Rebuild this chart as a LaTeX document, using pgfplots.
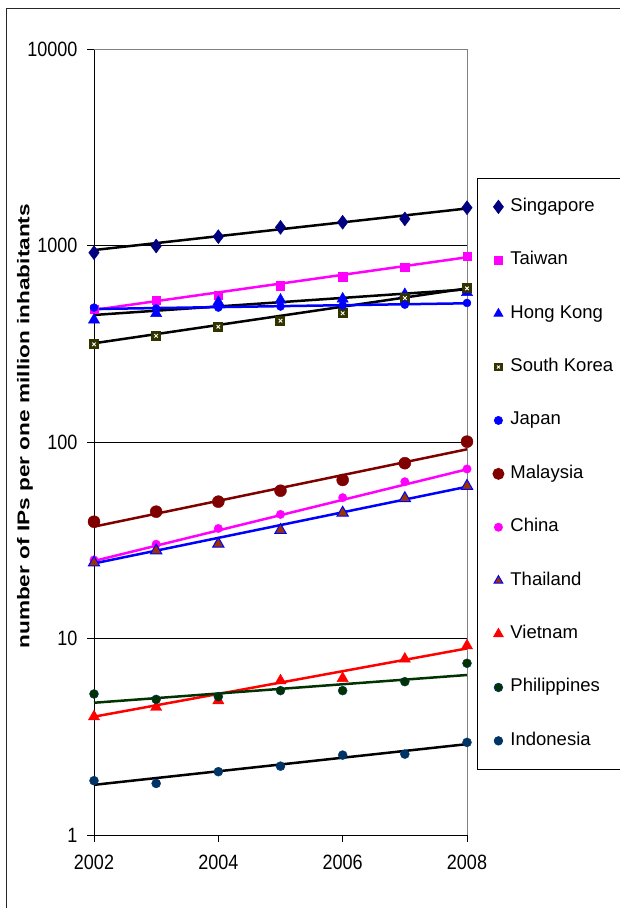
\documentclass[border=0pt]{standalone}
\usepackage{fontspec}
\setmainfont{Liberation Sans}
\usepackage{pgfplots}
\pgfplotsset{compat=1.18}
\definecolor{sgnavy}{HTML}{000080}
\definecolor{mag}{HTML}{FF00FF}
\definecolor{skolive}{HTML}{333300}
\definecolor{mydarkred}{HTML}{800000}
\definecolor{thbrown}{HTML}{993300}
\definecolor{phgreen}{HTML}{003300}
\definecolor{idnavy}{HTML}{003366}
\pgfdeclareplotmark{sqx}{%
 \pgfpathrectangle{\pgfqpoint{-\pgfplotmarksize}{-\pgfplotmarksize}}{\pgfqpoint{2\pgfplotmarksize}{2\pgfplotmarksize}}%
 \pgfsetfillcolor{skolive}\pgfusepath{fill}%
 \pgfsetstrokecolor{white}\pgfsetlinewidth{0.9pt}%
 \pgfpathmoveto{\pgfqpoint{-0.35\pgfplotmarksize}{-0.35\pgfplotmarksize}}%
 \pgfpathlineto{\pgfqpoint{0.35\pgfplotmarksize}{0.35\pgfplotmarksize}}%
 \pgfpathmoveto{\pgfqpoint{-0.35\pgfplotmarksize}{0.35\pgfplotmarksize}}%
 \pgfpathlineto{\pgfqpoint{0.35\pgfplotmarksize}{-0.35\pgfplotmarksize}}%
 \pgfusepath{stroke}}
\newcommand{\tl}[1]{\scalebox{1}[1.15]{#1}}
\begin{document}
\begin{tikzpicture}[x=1pt,y=1pt]
\useasboundingbox (0,0) rectangle (620,908);
\fill[white] (0,0) rectangle (620,908);
\draw[line width=1.8pt, black!85] (6.5,0) -- (6.5,899.5) -- (630,899.5);
\begin{axis}[
 at={(94pt,73pt)}, anchor=south west,
 scale only axis, width=373pt, height=786pt,
 ymode=log, xmin=2002, xmax=2008, ymin=1, ymax=10000,
 axis x line*=bottom, axis y line*=left,
 axis line style={black, line width=0.9pt},
 xtick={2002,2004,2006,2008}, xticklabels={\tl{2002},\tl{2004},\tl{2006},\tl{2008}},
 ytick={1,10,100,1000,10000}, yticklabels={\tl{1},\tl{10},\tl{100},\tl{1000},\tl{10000}},
 yminorticks=false,
 tick style={black, line width=0.9pt},
 tick align=outside, major tick length=7pt,
 ymajorgrids, major grid style={black, line width=0.9pt},
 tick label style={font=\fontsize{18}{20}\selectfont},
 xticklabel style={yshift=-10pt},
 yticklabel style={xshift=-6pt},
 ylabel={\scalebox{1.33}[1]{\bfseries\fontsize{17}{20}\selectfont number of IPs per one million inhabitants}},
 ylabel style={at={(axis description cs:-0.185,0.52)}, anchor=center},
 clip=false,
 legend cell align=left,
 legend style={at={(axis description cs:1.0268,0.836)}, anchor=north west, draw=black, line width=0.9pt,
   inner xsep=15pt, inner ysep=20pt, row sep=36.4pt, column sep=6pt,
   font=\fontsize{18.5}{20}\selectfont,
   nodes={inner sep=0pt, text height=13pt, text depth=4pt}},
 legend image code/.code={\path[draw=none,fill=none] (0pt,-3pt) rectangle (12pt,3pt); \draw[#1] plot coordinates {(6pt,0pt)};},
]
% legend images
\addlegendimage{only marks, mark=diamond*, mark size=6.5pt, color=sgnavy}
\addlegendentry{Singapore}
\addlegendimage{only marks, mark=square*, mark size=3.8pt, color=mag}
\addlegendentry{Taiwan}
\addlegendimage{only marks, mark=triangle*, mark size=5pt, color=blue}
\addlegendentry{Hong Kong}
\addlegendimage{only marks, mark=sqx, mark size=4.2pt, color=skolive}
\addlegendentry{South Korea}
\addlegendimage{only marks, mark=*, mark size=4pt, color=blue}
\addlegendentry{Japan}
\addlegendimage{only marks, mark=*, mark size=5.5pt, color=mydarkred}
\addlegendentry{Malaysia}
\addlegendimage{only marks, mark=*, mark size=4pt, color=mag}
\addlegendentry{China}
\addlegendimage{only marks, mark=triangle*, mark size=5pt, mark options={fill=thbrown, draw=blue, line width=1pt}}
\addlegendentry{Thailand}
\addlegendimage{only marks, mark=triangle*, mark size=5.5pt, color=red}
\addlegendentry{Vietnam}
\addlegendimage{only marks, mark=*, mark size=4.2pt, mark options={fill=phgreen, draw=idnavy}}
\addlegendentry{Philippines}
\addlegendimage{only marks, mark=*, mark size=4.2pt, color=idnavy}
\addlegendentry{Indonesia}
% markers
\addplot[forget plot, only marks, mark=diamond*, mark size=7pt, color=sgnavy] coordinates {(2002,919)(2003,994)(2004,1109)(2005,1237)(2006,1313)(2007,1365)(2008,1557)};
\addplot[forget plot, only marks, mark=square*, mark size=4.2pt, color=mag] coordinates {(2002,473)(2003,528)(2004,560)(2005,625)(2006,694)(2007,774)(2008,885)};
\addplot[forget plot, only marks, mark=triangle*, mark size=6.5pt, color=blue] coordinates {(2002,418)(2003,451)(2004,515)(2005,528)(2006,535)(2007,564)(2008,577)};
\addplot[forget plot, only marks, mark=sqx, mark size=5pt, color=skolive] coordinates {(2002,314)(2003,347)(2004,386)(2005,414)(2006,452)(2007,540)(2008,605)};
\addplot[forget plot, only marks, mark=*, mark size=4pt, color=blue] coordinates {(2002,483)(2003,478)(2004,483)(2005,489)(2006,496)(2007,500)(2008,510)};
\addplot[forget plot, only marks, mark=*, mark size=6pt, color=mydarkred] coordinates {(2002,39.3)(2003,44.2)(2004,49.7)(2005,56.5)(2006,64.1)(2007,78)(2008,100.4)};
\addplot[forget plot, only marks, mark=*, mark size=4.2pt, color=mag] coordinates {(2002,25.1)(2003,30.2)(2004,36.3)(2005,42.8)(2006,52.1)(2007,62.8)(2008,72.9)};
\addplot[forget plot, only marks, mark=triangle*, mark size=6.5pt, mark options={fill=thbrown, draw=blue, line width=1pt}] coordinates {(2002,24.3)(2003,28.0)(2004,30.3)(2005,35.6)(2006,43.6)(2007,51.7)(2008,59.7)};
\addplot[forget plot, only marks, mark=triangle*, mark size=6.5pt, color=red] coordinates {(2002,4.0)(2003,4.47)(2004,4.83)(2005,6.10)(2006,6.27)(2007,7.87)(2008,9.19)};
\addplot[forget plot, only marks, mark=*, mark size=4.5pt, mark options={fill=phgreen, draw=idnavy}] coordinates {(2002,5.22)(2003,4.90)(2004,5.06)(2005,5.43)(2006,5.43)(2007,6.03)(2008,7.48)};
\addplot[forget plot, only marks, mark=*, mark size=4.5pt, color=idnavy] coordinates {(2002,1.89)(2003,1.83)(2004,2.10)(2005,2.24)(2006,2.55)(2007,2.58)(2008,2.96)};
% trend lines
\addplot[forget plot, no marks, black, line width=2.5pt] coordinates {(2002,948)(2008,1543)};
\addplot[forget plot, no marks, mag, line width=2.5pt] coordinates {(2002,470)(2008,871)};
\addplot[forget plot, no marks, black, line width=2.5pt] coordinates {(2002,443)(2008,598)};
\addplot[forget plot, no marks, black, line width=2.5pt] coordinates {(2002,318)(2008,605)};
\addplot[forget plot, no marks, blue, line width=2.5pt] coordinates {(2002,475)(2008,508)};
\addplot[forget plot, no marks, mydarkred, line width=2.5pt] coordinates {(2002,37.1)(2008,91.8)};
\addplot[forget plot, no marks, mag, line width=2.5pt] coordinates {(2002,24.8)(2008,72.6)};
\addplot[forget plot, no marks, blue, line width=2.5pt] coordinates {(2002,24.1)(2008,59.2)};
\addplot[forget plot, no marks, red, line width=2.5pt] coordinates {(2002,4.0)(2008,8.9)};
\addplot[forget plot, no marks, phgreen, line width=2.5pt] coordinates {(2002,4.71)(2008,6.52)};
\addplot[forget plot, no marks, black, line width=2.5pt] coordinates {(2002,1.80)(2008,2.90)};
\draw[gray, line width=0.9pt] (rel axis cs:0,1) -- (rel axis cs:1,1) -- (rel axis cs:1,0);
\end{axis}
\end{tikzpicture}
\end{document}
